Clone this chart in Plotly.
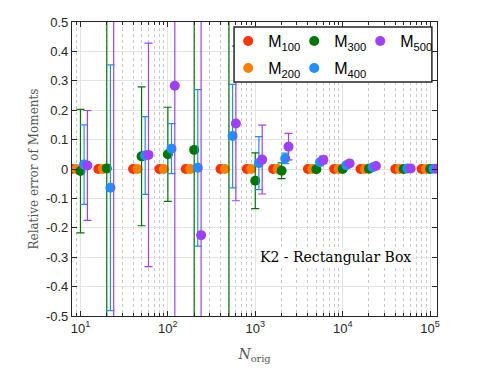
import math

import plotly.graph_objects as go

# sample sizes on the x axis
n_orig = [10, 20, 50, 100, 200, 500, 1000, 2000, 5000, 10000, 20000, 50000, 100000]

# mean relative error of each moment
m100_mean = [0.000, 0.000, 0.000, 0.000, 0.000, 0.000, 0.000, 0.000, 0.000, 0.000, 0.000, 0.000, 0.000]
m200_mean = [0.000, 0.000, 0.000, 0.000, 0.000, 0.000, 0.000, 0.000, 0.000, 0.000, 0.000, 0.000, 0.000]
m300_mean = [-0.007, 0.002, 0.043, 0.050, 0.065, 0.600, -0.040, -0.006, -0.001, 0.000, 0.001, 0.000, 0.000]
m400_mean = [0.015, -0.064, 0.046, 0.069, 0.004, 0.112, 0.020, 0.036, 0.023, 0.013, 0.006, 0.002, 0.001]
m500_mean = [0.012, 0.650, 0.048, 0.283, -0.225, 0.155, 0.032, 0.076, 0.031, 0.019, 0.010, 0.002, 0.001]

# standard deviations (error bar half lengths)
m100_err = [0.000, 0.000, 0.000, 0.000, 0.000, 0.000, 0.000, 0.000, 0.000, 0.000, 0.000, 0.000, 0.000]
m200_err = [0.000, 0.000, 0.000, 0.000, 0.000, 0.000, 0.000, 0.000, 0.000, 0.000, 0.000, 0.000, 0.000]
m300_err = [0.210, 1.200, 0.236, 0.160, 0.900, 1.300, 0.095, 0.027, 0.008, 0.004, 0.003, 0.002, 0.001]
m400_err = [0.135, 0.418, 0.132, 0.085, 0.266, 0.176, 0.090, 0.018, 0.010, 0.005, 0.003, 0.002, 0.001]
m500_err = [0.187, 1.400, 0.380, 0.950, 1.000, 0.263, 0.117, 0.045, 0.013, 0.006, 0.004, 0.002, 0.001]

series_names = ["M<sub>100</sub>", "M<sub>200</sub>", "M<sub>300</sub>", "M<sub>400</sub>", "M<sub>500</sub>"]
y_ticks = [-0.5, -0.4, -0.3, -0.2, -0.1, 0, 0.1, 0.2, 0.3, 0.4, 0.5]
y_tick_labels = ["-0.5", "-0.4", "-0.3", "-0.2", "-0.1", "0", "0.1", "0.2", "0.3", "0.4", "0.5"]
x_ticks = [10, 100, 1000, 10000, 100000]
x_tick_labels = ["10<sup>1</sup>", "10<sup>2</sup>", "10<sup>3</sup>", "10<sup>4</sup>", "10<sup>5</sup>"]

colors = ["#FF3300", "#FF8000", "#007800", "#1E90FF", "#A040FF"]
dodge = [0.8, 0.9, 1.0, 1.1, 1.2]
legend_ref = ["legend", "legend2", "legend", "legend2", "legend"]

means = [m100_mean, m200_mean, m300_mean, m400_mean, m500_mean]
errs = [m100_err, m200_err, m300_err, m400_err, m500_err]

sans = "Liberation Sans"
serif = "DejaVu Serif"
axis_col = "#262626"

# minor grid at 2..9 of every decade
minor_vals = [m * 10 ** d for d in range(0, 6) for m in range(2, 10)]

fig = go.Figure()
for name, mean, err, col, k, leg in zip(series_names, means, errs, colors, dodge, legend_ref):
    fig.add_trace(go.Scatter(
        x=[n * k for n in n_orig],
        y=mean,
        mode="markers",
        name=name,
        legend=leg,
        marker=dict(color=col, size=10, line=dict(width=0)),
        error_y=dict(type="data", array=err, color=col, thickness=1.2, width=4),
    ))

# empty spacer entries so the last label of each legend row is not clipped
for leg in ["legend", "legend2"]:
    fig.add_trace(go.Scatter(
        x=[None], y=[None], mode="markers", name=" ", legend=leg,
        marker=dict(color="rgba(0,0,0,0)", size=1), hoverinfo="skip",
    ))

leg_font = dict(family=sans, size=16, color="black")
fig.update_layout(
    width=493,
    height=381,
    margin=dict(l=72, r=56, t=22, b=65, autoexpand=False),
    paper_bgcolor="white",
    plot_bgcolor="white",
    font=dict(family=sans, size=13, color=axis_col),
    legend=dict(
        orientation="h", x=0.428, y=0.993, xanchor="left", yanchor="top",
        entrywidth=21, entrywidthmode="pixels", bgcolor="rgba(0,0,0,0)", font=leg_font,
    ),
    legend2=dict(
        orientation="h", x=0.428, y=0.901, xanchor="left", yanchor="top",
        entrywidth=21, entrywidthmode="pixels", bgcolor="rgba(0,0,0,0)", font=leg_font,
    ),
    shapes=[dict(
        type="rect", xref="paper", yref="paper",
        x0=0.444, x1=0.986, y0=0.796, y1=0.983,
        fillcolor="white", line=dict(color=axis_col, width=1.5), layer="above",
    )],
    annotations=[dict(
        text="K2 - Rectangular Box", xref="paper", yref="paper",
        x=0.722, y=0.20, xanchor="center", yanchor="middle",
        showarrow=False, bgcolor="white",
        font=dict(family=serif, size=14, color="black"),
    )],
)

fig.update_xaxes(
    type="log",
    range=[math.log10(8), math.log10(1.2e5)],
    tickvals=x_ticks, ticktext=x_tick_labels,
    showline=True, linecolor=axis_col, linewidth=1.2, mirror="ticks",
    ticks="inside", ticklen=5, tickcolor=axis_col,
    showgrid=True, gridcolor="#e3e3e3", gridwidth=1,
    minor=dict(tickvals=minor_vals, ticks="inside", ticklen=3, tickcolor=axis_col,
               showgrid=True, gridcolor="#c8c8c8", griddash="dot"),
    title=dict(text="<i>N</i><sub>orig</sub>", font=dict(family=serif, size=14, color="#555555"), standoff=14),
    zeroline=False,
)
fig.update_yaxes(
    range=[-0.5, 0.5],
    tickvals=y_ticks, ticktext=y_tick_labels,
    showline=True, linecolor=axis_col, linewidth=1.2, mirror="ticks",
    ticks="inside", ticklen=5, tickcolor=axis_col,
    showgrid=True, gridcolor="#e3e3e3", gridwidth=1,
    zeroline=False,
    title=dict(text="Relative error of Moments", font=dict(family=serif, size=12, color="#555555"), standoff=4),
)

fig.write_html(
    "out.html",
    config={"displayModeBar": False},
    post_script="document.body.style.margin='0';",
)
